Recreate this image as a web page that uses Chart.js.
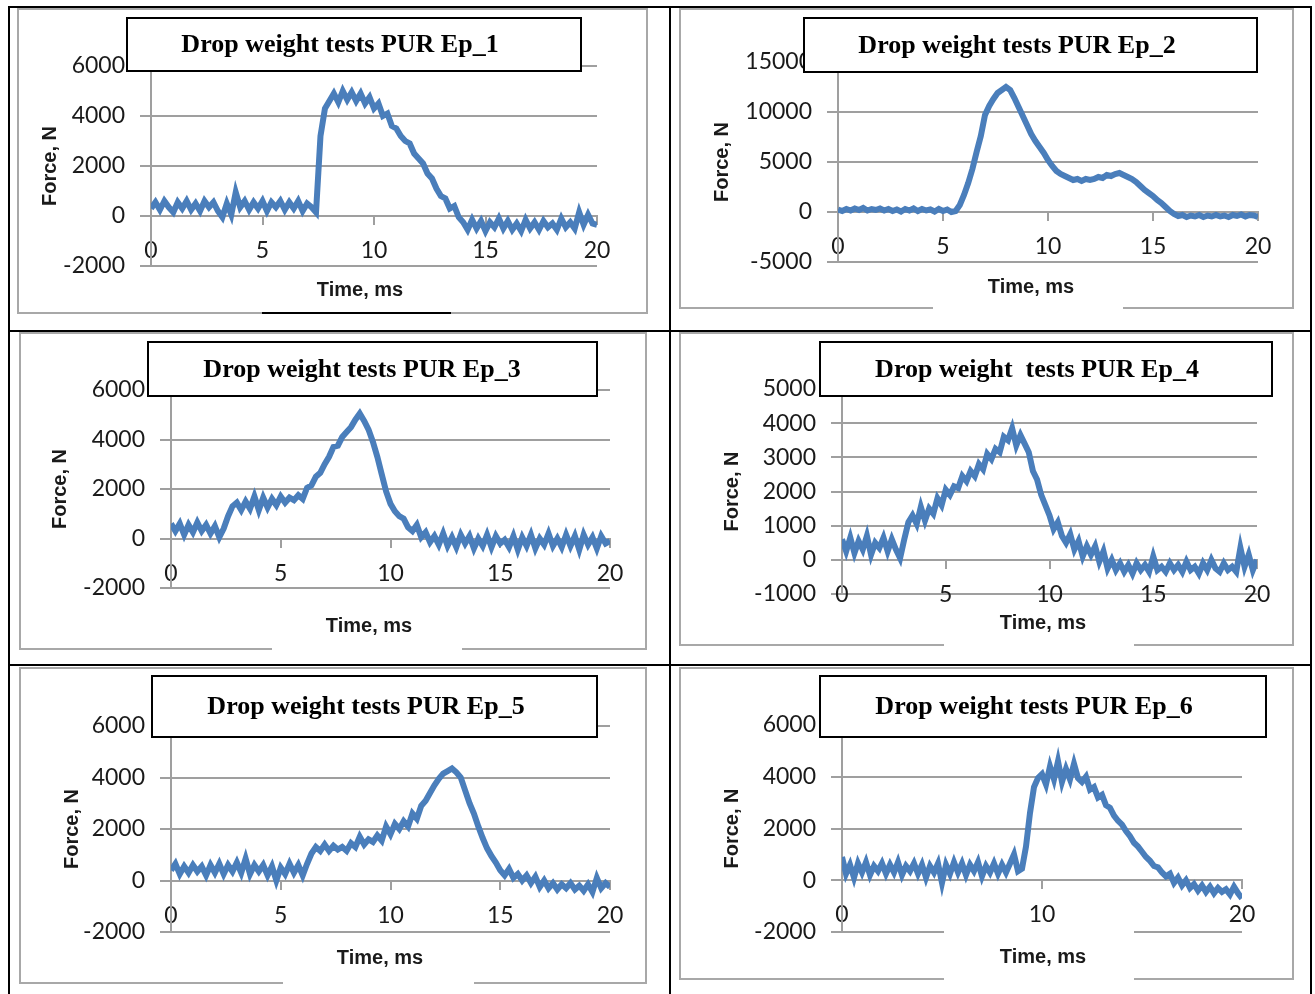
<!DOCTYPE html>
<html>
<head>
<meta charset="utf-8">
<script src="https://cdn.jsdelivr.net/npm/chart.js@4.4.1/dist/chart.umd.min.js"></script>
<style>
  body { margin: 0; background: #fff; }
  #page { position: relative; width: 1315px; height: 994px; overflow: hidden; }
  .rule { position: absolute; background: #000; }
  canvas { position: absolute; }
</style>
</head>
<body>
<div id="page">
  <div class="rule" style="left:8px;top:6px;width:2px;height:988px"></div>
  <div class="rule" style="left:669px;top:6px;width:2px;height:988px"></div>
  <div class="rule" style="left:1310px;top:6px;width:2px;height:988px"></div>
  <div class="rule" style="left:8px;top:6px;width:1304px;height:2px"></div>
  <div class="rule" style="left:8px;top:330px;width:1304px;height:2px"></div>
  <div class="rule" style="left:8px;top:664px;width:1304px;height:2px"></div>
</div>
<script>
// sampling grid, ms
const timeMs = Array.from({ length: 101 }, (_, i) => +(i * 0.2).toFixed(1));

const forceEp1 = [300, 550, 250, 600, 350, 150, 550, 300, 600, 250,
  500, 200, 600, 350, 550, 200, -50, 500, 50, 950,
  350, 600, 250, 550, 300, 600, 200, 550, 350, 600,
  250, 550, 300, 600, 200, 500, 350, 150, 3200, 4300,
  4600, 4900, 4550, 5000, 4650, 4950, 4600, 4900, 4500, 4750,
  4300, 4500, 4000, 4100, 3600, 3500, 3200, 3000, 2900, 2500,
  2300, 2100, 1700, 1500, 1100, 800, 700, 300, 400, -50,
  -250, -550, -150, -500, -200, -600, -250, -450, -100, -500,
  -200, -550, -300, -600, -150, -500, -250, -550, -200, -450,
  -300, -550, -100, -450, -250, -500, 150, -350, 50, -300,
  -350];
const forceEp2 = [250, 100, 300, 150, 350, 200, 400, 150, 300, 200,
  350, 150, 300, 100, 250, 50, 300, 150, 350, 100,
  300, 150, 250, 50, 300, 100, 250, 0, 100, 700,
  1700, 2900, 4300, 6000, 7600, 9700, 10600, 11300, 11900, 12200,
  12500, 12200, 11400, 10500, 9600, 8700, 7800, 7100, 6500, 5900,
  5200, 4600, 4100, 3800, 3600, 3400, 3200, 3300, 3100, 3300,
  3200, 3300, 3500, 3400, 3700, 3600, 3800, 3900, 3700, 3500,
  3300, 3000, 2600, 2200, 1900, 1600, 1200, 900, 500, 100,
  -200, -400, -300, -500, -350, -450, -300, -500, -350, -450,
  -300, -450, -350, -500, -300, -400, -250, -450, -300, -350,
  -500];
const forceEp3 = [600, 300, 600, 150, 550, 250, 650, 300, 550, 200,
  500, 50, 400, 900, 1300, 1450, 1150, 1500, 1200, 1700,
  1150, 1650, 1250, 1600, 1350, 1700, 1450, 1650, 1550, 1750,
  1600, 2050, 2150, 2500, 2650, 3000, 3300, 3700, 3750, 4100,
  4300, 4500, 4800, 5050, 4750, 4400, 3900, 3300, 2600, 1900,
  1400, 1100, 900, 800, 450, 300, 550, 50, 250, -150,
  100, -250, 200, -300, 50, -350, 150, -200, 100, -400,
  0, -300, 150, -350, 100, -200, -50, -350, 100, -450,
  50, -300, 150, -400, 0, -250, 200, -300, 0, -350,
  150, -300, 100, -450, 150, -250, 50, -400, 100, -200,
  -100];
const forceEp4 = [600, 250, 650, 200, 550, 300, 700, 150, 500, 350,
  650, 250, 600, 300, 50, 600, 1100, 1300, 1050, 1550,
  1150, 1500, 1350, 1800, 1600, 2050, 1900, 2150, 2100, 2450,
  2300, 2600, 2450, 2800, 2650, 3100, 2950, 3250, 3150, 3600,
  3500, 3850, 3350, 3650, 3400, 3150, 2600, 2350, 1900, 1600,
  1300, 900, 1100, 700, 500, 750, 300, 550, 100, 400,
  150, 400, -50, 250, -250, 0, -300, -100, -350, -150,
  -400, -100, -300, -150, -350, 100, -300, -200, -350, -100,
  -300, -150, -350, -50, -300, -200, -400, -100, -300, 0,
  -250, -350, -100, -300, -200, -350, 350, -200, 150, -300,
  0];
const forceEp5 = [400, 650, 250, 550, 300, 600, 350, 550, 200, 600,
  300, 650, 250, 600, 350, 700, 300, 850, 250, 600,
  350, 600, 200, 550, 0, 500, 250, 650, 300, 600,
  200, 650, 1050, 1300, 1150, 1400, 1150, 1350, 1200, 1300,
  1150, 1450, 1300, 1700, 1400, 1600, 1500, 1750, 1550, 2100,
  1800, 2200, 2000, 2300, 2100, 2600, 2400, 2900, 3100, 3400,
  3700, 3950, 4150, 4250, 4350, 4200, 4000, 3500, 3000, 2600,
  2100, 1650, 1250, 950, 700, 400, 200, 450, 100, 250,
  0, 200, -100, 150, -250, 0, -300, -100, -350, -150,
  -300, -100, -350, -200, -400, -150, -450, 100, -300, -100,
  -250];
const forceEp6 = [900, 250, 600, 100, 650, 300, 700, 200, 550, 350,
  650, 250, 600, 300, 700, 200, 550, 350, 650, 250,
  600, 100, 550, 300, 650, -100, 600, 250, 700, 300,
  650, 200, 600, 350, 700, 150, 550, 300, 650, 250,
  600, 300, 650, 1000, 350, 450, 1300, 2600, 3600, 3950,
  4100, 3700, 4400, 3900, 4600, 3800, 4300, 3900, 4500, 3950,
  3800, 4000, 3500, 3600, 3200, 3300, 2900, 2800, 2500, 2300,
  2150, 1900, 1700, 1450, 1300, 1100, 900, 750, 550, 500,
  300, 150, 250, -100, 100, -200, 0, -300, -150, -400,
  -200, -450, -250, -500, -300, -450, -350, -550, -250, -500,
  -700];

const series = [forceEp1, forceEp2, forceEp3, forceEp4, forceEp5, forceEp6];
const titles = ['Drop weight tests PUR Ep_1', 'Drop weight tests PUR Ep_2', 'Drop weight tests PUR Ep_3',
  'Drop weight  tests PUR Ep_4', 'Drop weight tests PUR Ep_5', 'Drop weight tests PUR Ep_6'];
const yMin = [-2000, -5000, -2000, -1000, -2000, -2000];
const yMax = [6000, 15000, 6000, 5000, 6000, 6000];
const yStep = [2000, 5000, 2000, 1000, 2000, 2000];
const xStep = [5, 5, 5, 5, 5, 10];
const yTitle = 'Force, N';
const xTitle = 'Time, ms';

// page placement of each panel: frame, plot edges (x0, x20, top, bottom), titles
const panels = [
  { box: [17, 8, 631, 306], plot: [151, 597, 66, 266], yTitleX: 50, xTitle: [360, 290], tbox: [127, 18, 454, 53], textX: 340, under: [262, 312, 189, 2] },
  { box: [679, 8, 615, 301], plot: [838, 1258, 62, 262], yTitleX: 722, xTitle: [1031, 287], tbox: [804, 18, 453, 54], textX: 1017, gap: [933, 299, 190, 11] },
  { box: [19, 332, 628, 318], plot: [171, 610, 390, 588], yTitleX: 60, xTitle: [369, 626], tbox: [148, 342, 449, 54], textX: 362, gap: [272, 640, 190, 11] },
  { box: [679, 332, 615, 314], plot: [842, 1257, 389, 594], yTitleX: 732, xTitle: [1043, 623], tbox: [820, 342, 452, 54], textX: 1037, gap: [944, 636, 190, 11] },
  { box: [19, 667, 628, 317], plot: [171, 610, 726, 932], yTitleX: 72, xTitle: [380, 958], tbox: [152, 676, 445, 61], textX: 366, gap: [283, 975, 191, 10] },
  { box: [679, 667, 615, 313], plot: [842, 1242, 725, 932], yTitleX: 732, xTitle: [1043, 957], tbox: [820, 676, 446, 61], textX: 1034, gap: [944, 930, 190, 51] }
];

const gridColor = '#9f9f9f';
const tickFont = { family: 'Lato', size: 23 };
const plainNum = (v) => String(v);

const panelDecor = {
  id: 'panelDecor',
  beforeDraw(chart, args, o) {
    const c = chart.ctx;
    c.save();
    c.strokeStyle = '#a8a8a8';
    c.lineWidth = 2;
    c.strokeRect(1, 1, chart.width - 2, chart.height - 2);
    c.restore();
  },
  afterDraw(chart, args, o) {
    const c = chart.ctx;
    c.save();
    if (o.gap) {
      c.fillStyle = '#fff';
      c.fillRect(o.gap[0], o.gap[1], o.gap[2], o.gap[3]);
    }
    if (o.under) {
      c.fillStyle = '#000';
      c.fillRect(o.under[0], o.under[1], o.under[2], o.under[3]);
    }
    const [bx, by, bw, bh] = o.tbox;
    c.fillStyle = '#fff';
    c.fillRect(bx, by, bw, bh);
    c.strokeStyle = '#000';
    c.lineWidth = 2;
    c.strokeRect(bx, by, bw, bh);
    c.fillStyle = '#000';
    c.textAlign = 'center';
    c.textBaseline = 'middle';
    c.font = 'bold 26px "Liberation Serif"';
    c.fillText(o.text, o.textX, by + bh / 2 + 1);
    c.fillStyle = '#1a1a1a';
    c.font = 'bold 20px "Liberation Sans"';
    c.fillText(o.xTitle, o.xTitlePos[0], o.xTitlePos[1]);
    c.restore();
  }
};

const page = document.getElementById('page');

panels.forEach((p, i) => {
  const [bx, by, bw, bh] = p.box;
  const canvas = document.createElement('canvas');
  canvas.width = bw;
  canvas.height = bh;
  canvas.style.left = bx + 'px';
  canvas.style.top = by + 'px';
  page.insertBefore(canvas, page.firstChild);

  const axisW = p.plot[0] - bx;
  const shift = (r) => [r[0] - bx, r[1] - by, r[2], r[3]];

  new Chart(canvas, {
    type: 'line',
    data: {
      datasets: [{
        data: timeMs.map((t, k) => ({ x: t, y: series[i][k] })),
        borderColor: '#4a7ebb',
        borderWidth: 6,
        pointRadius: 0,
        tension: 0,
        fill: false
      }]
    },
    options: {
      responsive: false,
      animation: false,
      events: [],
      layout: {
        padding: { left: 0, top: p.plot[2] - by, right: bx + bw - p.plot[1], bottom: by + bh - p.plot[3] }
      },
      plugins: {
        legend: { display: false },
        tooltip: { enabled: false },
        panelDecor: {
          tbox: shift(p.tbox),
          text: titles[i],
          textX: p.textX - bx,
          xTitle: xTitle,
          xTitlePos: [p.xTitle[0] - bx, p.xTitle[1] - by],
          gap: p.gap ? shift(p.gap) : null,
          under: p.under ? shift(p.under) : null
        }
      },
      scales: {
        x: {
          type: 'linear',
          min: 0,
          max: 20,
          position: { y: 0 },
          ticks: { stepSize: xStep[i], padding: 13, color: '#1a1a1a', font: tickFont, maxRotation: 0, callback: plainNum },
          grid: { drawOnChartArea: false, drawTicks: true, tickLength: 8, color: gridColor, lineWidth: 2 },
          border: { color: gridColor, width: 2 }
        },
        y: {
          min: yMin[i],
          max: yMax[i],
          ticks: { stepSize: yStep[i], padding: 15, color: '#1a1a1a', font: tickFont, callback: plainNum },
          grid: { color: gridColor, lineWidth: 2, tickLength: 11 },
          border: { color: gridColor, width: 2 },
          title: {
            display: true,
            text: yTitle,
            color: '#1a1a1a',
            font: { family: 'Liberation Sans', size: 20, weight: 'bold' },
            padding: { top: p.yTitleX - bx - 12, bottom: 0 }
          },
          afterFit(scale) { scale.width = axisW; }
        }
      }
    },
    plugins: [panelDecor]
  });
});
</script>
</body>
</html>
